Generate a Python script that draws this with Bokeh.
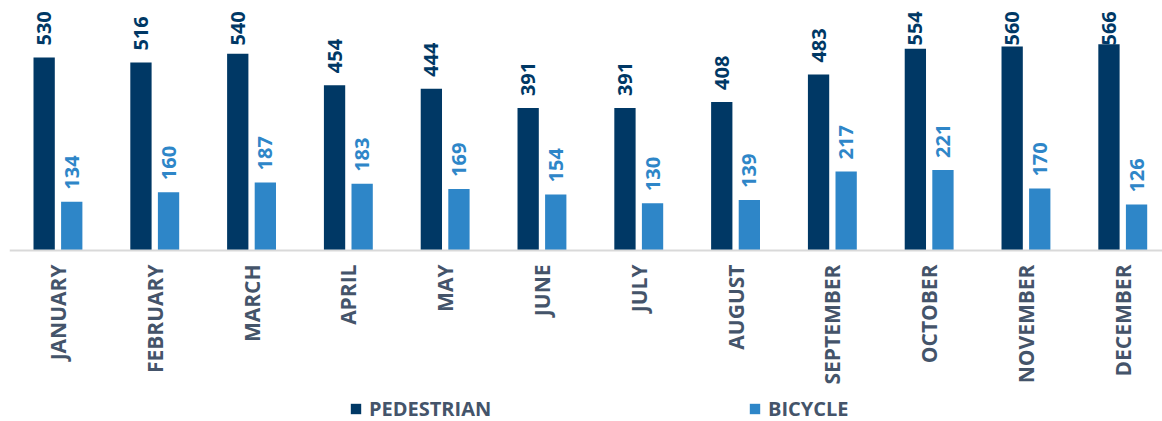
import numpy as np
from bokeh.plotting import figure
from bokeh.models import ColumnDataSource, Range1d, FixedTicker, Legend, LegendItem
from bokeh.core.properties import value
from bokeh.embed import file_html
from bokeh.resources import INLINE

months = ["JANUARY", "FEBRUARY", "MARCH", "APRIL", "MAY", "JUNE", "JULY",
          "AUGUST", "SEPTEMBER", "OCTOBER", "NOVEMBER", "DECEMBER"]
pedestrian = [530, 516, 540, 454, 444, 391, 391, 408, 483, 554, 560, 566]
bicycle = [134, 160, 187, 183, 169, 154, 130, 139, 217, 221, 170, 126]

PED_COLOR = "#003865"
BIKE_COLOR = "#2E86C8"
TEXT_GRAY = "#44546A"
FONT = "Open Sans"

PX_PER_UNIT = 0.3642
ABOVE_AXIS_PX = 250
BELOW_AXIS_PX = 171
FRAME_W = 1153
y_start = -BELOW_AXIS_PX / PX_PER_UNIT
y_end = ABOVE_AXIS_PX / PX_PER_UNIT
label_gap = 12 / PX_PER_UNIT
label_cap = 205 / PX_PER_UNIT

x = np.arange(len(months))
ped = np.array(pedestrian, dtype=float)
bike = np.array(bicycle, dtype=float)

src = ColumnDataSource(dict(
    xp=x - 0.143, xb=x + 0.142,
    ped=ped, bike=bike,
    ped_ly=np.minimum(ped + label_gap, label_cap),
    bike_ly=np.minimum(bike + label_gap, label_cap),
    ped_t=[str(v) for v in pedestrian],
    bike_t=[str(v) for v in bicycle],
))

p = figure(frame_width=FRAME_W, frame_height=ABOVE_AXIS_PX + BELOW_AXIS_PX,
           x_range=Range1d(-0.501, 11.41), y_range=Range1d(y_start, y_end),
           output_backend="svg", toolbar_location=None,
           min_border_left=9, min_border_right=0, min_border_top=0, min_border_bottom=0)
p.outline_line_color = None
p.grid.grid_line_color = None
p.yaxis.visible = False
p.background_fill_color = "white"
p.border_fill_color = "white"

r_ped = p.vbar(x="xp", top="ped", bottom=0, width=0.22, source=src,
               fill_color=PED_COLOR, line_color=None)
r_bike = p.vbar(x="xb", top="bike", bottom=0, width=0.22, source=src,
                fill_color=BIKE_COLOR, line_color=None)

p.text(x="xp", y="ped_ly", text="ped_t", source=src, angle=np.pi / 2,
       text_align="left", text_baseline="middle", text_font_size="20px",
       text_font_style="bold", text_color=PED_COLOR, text_font=value(FONT))
p.text(x="xb", y="bike_ly", text="bike_t", source=src, angle=np.pi / 2,
       text_align="left", text_baseline="middle", text_font_size="20px",
       text_font_style="bold", text_color=BIKE_COLOR, text_font=value(FONT))

ax = p.xaxis[0]
ax.fixed_location = 0
ax.ticker = FixedTicker(ticks=list(x))
ax.major_label_overrides = {int(i): m for i, m in zip(x, months)}
ax.major_label_orientation = np.pi / 2
ax.major_tick_line_color = None
ax.minor_tick_line_color = None
ax.major_tick_out = 0
ax.major_tick_in = 0
ax.major_label_standoff = 14
ax.axis_line_color = "#D9D9D9"
ax.axis_line_width = 2
ax.major_label_text_font = FONT
ax.major_label_text_font_style = "bold"
ax.major_label_text_font_size = "21px"
ax.major_label_text_color = TEXT_GRAY

legend = Legend(items=[LegendItem(label="PEDESTRIAN", renderers=[r_ped]),
                       LegendItem(label="BICYCLE", renderers=[r_bike])],
                orientation="horizontal", location=(340, -1),
                glyph_width=13, glyph_height=13, label_standoff=7,
                label_width=379, spacing=0, padding=0, margin=0,
                border_line_color=None, background_fill_alpha=0,
                label_text_font=FONT, label_text_font_style="bold",
                label_text_font_size="20px", label_text_color=TEXT_GRAY)
p.add_layout(legend, "center")

open("out.html", "w").write(file_html(p, INLINE))
